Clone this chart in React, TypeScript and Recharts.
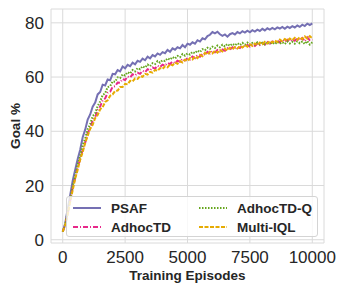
import { LineChart, Line, XAxis, YAxis, CartesianGrid, Legend } from 'recharts';

const episodes = Array.from({ length: 101 }, (_, i) => i * 100);

const psaf = [
  3, 6, 11.5, 16.5, 21.8, 25.8, 29.8, 33.2, 37.8, 40.6, 44.3,
  46.2, 49.1, 50.6, 53.6, 54.5, 57.2, 56.9, 59.1, 58.8, 61.2,
  61.0, 62.6, 62.1, 63.9, 63.2, 64.5, 64.0, 65.3, 64.7, 66.0,
  65.6, 66.8, 66.2, 67.5, 66.9, 68.1, 67.6, 68.7, 68.2, 69.2,
  68.8, 70.0, 69.3, 70.6, 70.1, 71.0, 70.6, 71.8, 71.0, 72.3,
  71.9, 72.8, 72.3, 73.6, 73.1, 74.3, 73.9, 75.1, 75.6, 76.6,
  76.1, 76.7, 75.8, 75.2, 75.7, 74.9, 75.8, 76.2, 75.7, 76.6,
  76.1, 76.9, 76.4, 77.1, 76.5, 77.3, 76.8, 77.5, 77.0, 77.8,
  77.2, 78.0, 77.5, 78.1, 77.6, 78.3, 77.9, 78.5, 77.8, 78.6,
  78.1, 78.8, 78.3, 79.0, 78.5, 79.3, 78.8, 79.7, 79.2, 79.8,
];

const adhocTD = [
  3, 5.4, 9.6, 14.4, 19.2, 22.8, 26.8, 29.7, 33.3, 35.8, 39.3,
  41.2, 43.9, 45.1, 47.9, 49.1, 51.4, 52.1, 54.2, 54.6, 56.4,
  56.6, 58.0, 57.9, 59.3, 58.9, 60.2, 59.8, 61.0, 60.6, 61.6,
  61.2, 62.3, 61.8, 62.9, 62.4, 63.5, 63.1, 64.2, 63.7, 64.6,
  64.2, 65.2, 64.8, 65.7, 65.1, 66.0, 65.6, 66.7, 66.1, 66.9,
  66.5, 67.6, 67.0, 68.1, 67.5, 68.6, 68.2, 69.3, 68.7, 69.5,
  69.1, 70.0, 69.4, 70.2, 69.7, 70.6, 70.1, 71.0, 70.4, 71.1,
  70.7, 71.6, 71.0, 71.8, 71.3, 72.1, 71.5, 72.4, 71.8, 72.5,
  72.0, 72.9, 72.3, 73.1, 72.5, 73.4, 72.8, 73.7, 73.0, 73.8,
  73.2, 74.0, 73.4, 74.3, 73.5, 74.4, 73.2, 74.6, 73.6, 73.9,
];

const adhocTDQ = [
  3, 5.6, 10.3, 15.0, 19.8, 23.4, 27.8, 30.8, 34.9, 37.3, 40.8,
  42.6, 45.6, 46.6, 49.3, 51.0, 53.4, 54.0, 56.3, 56.6, 58.4,
  58.3, 59.9, 59.6, 61.0, 60.6, 61.8, 61.3, 62.6, 62.1, 63.3,
  62.9, 64.0, 63.5, 64.6, 64.0, 65.1, 64.8, 65.9, 65.3, 66.2,
  65.9, 66.9, 66.4, 67.4, 66.8, 67.8, 67.3, 68.5, 67.9, 68.7,
  68.3, 69.3, 68.8, 69.8, 69.2, 70.3, 69.9, 70.8, 70.4, 71.2,
  70.7, 71.6, 71.0, 71.9, 71.3, 72.2, 71.5, 72.3, 71.7, 72.5,
  71.8, 72.6, 71.9, 72.7, 71.9, 72.6, 72.0, 72.8, 72.1, 72.7,
  72.0, 72.9, 72.2, 72.8, 72.1, 73.0, 72.3, 72.9, 72.2, 73.1,
  72.4, 73.0, 72.3, 73.2, 72.5, 73.1, 72.2, 73.3, 72.0, 72.8,
];

const multiIQL = [
  3, 5.5, 9.3, 14.1, 18.3, 22.6, 25.8, 29.6, 32.3, 35.7, 38.3,
  40.9, 42.4, 44.9, 46.0, 48.1, 48.9, 50.8, 51.4, 53.1, 53.6,
  54.9, 55.0, 56.3, 56.3, 57.5, 57.3, 58.6, 58.4, 59.5, 59.3,
  60.4, 60.1, 61.2, 60.9, 61.9, 61.6, 62.6, 62.3, 63.3, 63.0,
  64.0, 63.6, 64.7, 64.3, 65.3, 64.9, 65.9, 65.4, 66.4, 65.9,
  67.0, 66.5, 67.6, 67.0, 68.2, 67.7, 68.9, 68.3, 69.3, 68.7,
  69.7, 69.0, 70.0, 69.4, 70.4, 69.8, 70.8, 70.2, 71.1, 70.5,
  71.4, 70.9, 71.8, 71.2, 72.1, 71.5, 72.4, 71.8, 72.7, 72.1,
  73.0, 72.4, 73.3, 72.7, 73.5, 72.9, 73.8, 73.2, 74.0, 73.4,
  74.2, 73.6, 74.5, 73.8, 74.7, 74.0, 75.0, 74.2, 75.1, 74.3,
];

const xTicks = [0, 2500, 5000, 7500, 10000];
const yTicks = [0, 20, 40, 60, 80];

const series = [
  { key: 'psaf', name: 'PSAF', color: '#7570b3', dash: undefined },
  { key: 'adhocTD', name: 'AdhocTD', color: '#e7298a', dash: '5 2 1 2' },
  { key: 'adhocTDQ', name: 'AdhocTD-Q', color: '#66a61e', dash: '1.5 1.5' },
  { key: 'multiIQL', name: 'Multi-IQL', color: '#e6ab02', dash: '4 1.5' },
];

const data = episodes.map((ep, i) => ({
  ep,
  psaf: psaf[i],
  adhocTD: adhocTD[i],
  adhocTDQ: adhocTDQ[i],
  multiIQL: multiIQL[i],
}));

const FONT = '"Liberation Sans", Arial, sans-serif';
const tickStyle = { fontSize: 17, fill: '#262626', fontFamily: FONT };

// legend slots: [left of sample, row center] inside the box
const slots = [
  [6, 11],
  [6, 30],
  [132, 11],
  [132, 30],
];

function LegendBox() {
  return (
    <div
      style={{
        position: 'relative',
        width: 250,
        height: 39,
        background: 'rgba(255,255,255,0.8)',
        border: '1px solid #d4d4d4',
        borderRadius: 3,
        fontFamily: FONT,
        fontWeight: 'bold',
        fontSize: 13.5,
        color: '#262626',
      }}
    >
      {series.map((s, i) => (
        <div
          key={s.key}
          style={{
            position: 'absolute',
            left: slots[i][0],
            top: slots[i][1] - 9,
            height: 18,
            display: 'flex',
            alignItems: 'center',
            whiteSpace: 'nowrap',
          }}
        >
          <svg width={28} height={6} style={{ marginRight: 10 }}>
            <line x1={0} y1={3} x2={28} y2={3} stroke={s.color} strokeWidth={2} strokeDasharray={s.dash} />
          </svg>
          <span>{s.name}</span>
        </div>
      ))}
    </div>
  );
}

export default function App() {
  return (
    <div style={{ position: 'absolute', left: 0, top: 0, background: '#fff' }}>
      <LineChart width={346} height={291} data={data} margin={{ top: 9, right: 22, left: 0, bottom: 0 }}>
        <CartesianGrid stroke="#dadada" strokeWidth={1} />
        <XAxis
          dataKey="ep"
          type="number"
          domain={[-470, 10470]}
          ticks={xTicks}
          axisLine={false}
          tickLine={false}
          tickSize={0}
          tickMargin={8}
          height={48}
          tick={tickStyle}
          label={{
            value: 'Training Episodes',
            position: 'insideBottom',
            offset: 11,
            style: { fontSize: 13.5, fontWeight: 'bold', fill: '#262626', fontFamily: FONT },
          }}
        />
        <YAxis
          type="number"
          domain={[-1.2, 85.1]}
          ticks={yTicks}
          axisLine={false}
          tickLine={false}
          tickSize={0}
          tickMargin={7}
          width={51}
          tick={tickStyle}
          label={{
            content: ({ viewBox }: any) => {
              const cx = viewBox.x + 15;
              const cy = viewBox.y + viewBox.height / 2;
              return (
                <text
                  x={cx}
                  y={cy}
                  transform={`rotate(-90, ${cx}, ${cy})`}
                  textAnchor="middle"
                  dominantBaseline="central"
                  style={{ fontSize: 13.5, fontWeight: 'bold', fill: '#262626', fontFamily: FONT }}
                >
                  Goal %
                </text>
              );
            },
          }}
        />
        {series.map((s) => (
          <Line
            key={s.key}
            type="linear"
            dataKey={s.key}
            name={s.name}
            stroke={s.color}
            strokeWidth={2}
            strokeDasharray={s.dash}
            dot={false}
            isAnimationActive={false}
          />
        ))}
        <Legend
          layout="vertical"
          align="center"
          verticalAlign="middle"
          content={() => <LegendBox />}
          wrapperStyle={{ left: 66, top: 196, width: 252, height: 41 }}
        />
      </LineChart>
    </div>
  );
}
